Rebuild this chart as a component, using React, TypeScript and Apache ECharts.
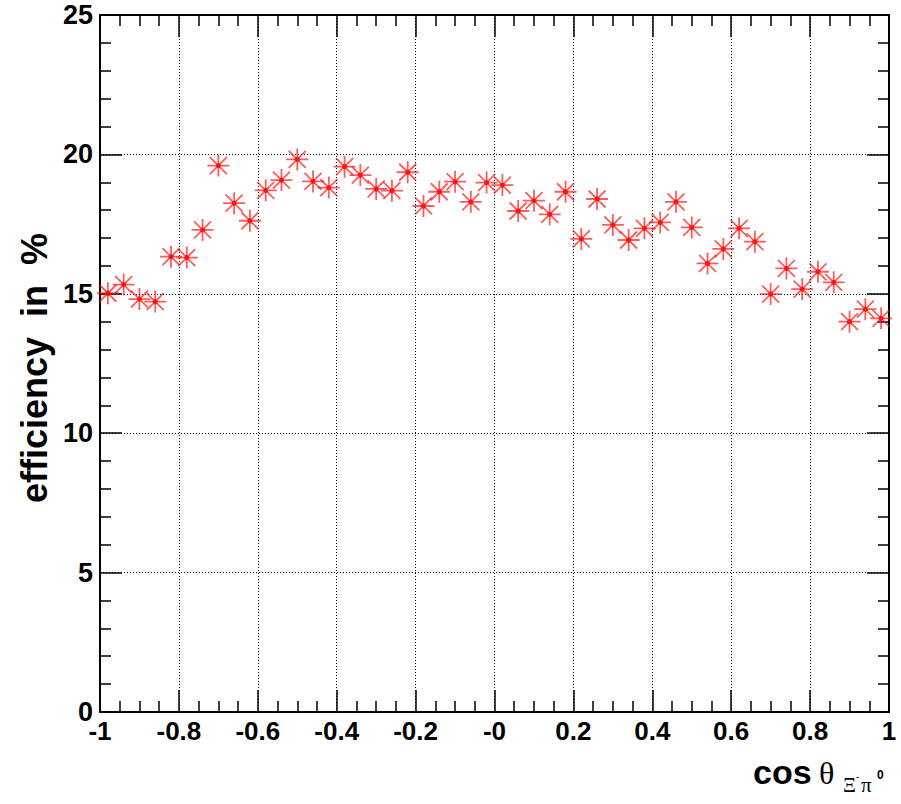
import React, { useEffect, useRef } from "react";
import * as echarts from "echarts";

const binCenters: number[] = [
  -0.98, -0.94, -0.9, -0.86, -0.82, -0.78, -0.74, -0.7, -0.66, -0.62,
  -0.58, -0.54, -0.5, -0.46, -0.42, -0.38, -0.34, -0.3, -0.26, -0.22,
  -0.18, -0.14, -0.1, -0.06, -0.02, 0.02, 0.06, 0.1, 0.14, 0.18,
  0.22, 0.26, 0.3, 0.34, 0.38, 0.42, 0.46, 0.5, 0.54, 0.58,
  0.62, 0.66, 0.7, 0.74, 0.78, 0.82, 0.86, 0.9, 0.94, 0.98,
];

const efficiency: number[] = [
  15.02, 15.33, 14.81, 14.72, 16.33, 16.3, 17.29, 19.6, 18.25, 17.62,
  18.71, 19.08, 19.82, 19.03, 18.81, 19.56, 19.26, 18.76, 18.7, 19.36,
  18.15, 18.66, 19.02, 18.3, 18.99, 18.9, 17.97, 18.34, 17.85, 18.66,
  16.97, 18.4, 17.47, 16.93, 17.35, 17.56, 18.3, 17.38, 16.09, 16.61,
  17.35, 16.87, 14.99, 15.91, 15.17, 15.79, 15.41, 14.0, 14.45, 14.12,
];

const yTitle = "efficiency  in  %";

const FONT = "'Liberation Sans', Arial, Helvetica, sans-serif";
const SERIF = "'Liberation Serif', 'DejaVu Serif', serif";

const STAR = "path://M0,-11L0,11M-11,0L11,0M-8.5,-8.5L8.5,8.5M-8.5,8.5L8.5,-8.5";

function fmtX(v: number): string {
  if (Math.abs(v) < 1e-9) return "-0";
  return String(Math.round(v * 10) / 10);
}

export default function App() {
  const ref = useRef<HTMLDivElement>(null);

  useEffect(() => {
    document.body.style.margin = "0";
    if (!ref.current) return;
    const chart = echarts.init(ref.current, null, { renderer: "svg" });
    const pts = binCenters.map((x, i) => [x, efficiency[i]]);

    const baseAxisLine = { show: true, onZero: false, lineStyle: { color: "#000", width: 2 } };
    const tick = { show: true, inside: true, length: 22, lineStyle: { color: "#000", width: 1.5 } };
    const split = { show: true, lineStyle: { color: "#000", width: 1, type: [1, 2] as any } };

    chart.setOption({
      animation: false,
      backgroundColor: "#fff",
      grid: { left: 100, top: 15, width: 789, height: 697, containLabel: false },
      xAxis: [
        {
          type: "value", position: "bottom", min: -1, max: 1, interval: 0.2,
          axisLine: baseAxisLine, axisTick: tick,
          minorTick: { show: true, splitNumber: 4, length: 11, lineStyle: { color: "#000", width: 1.5 } },
          splitLine: split,
          axisLabel: {
            formatter: fmtX, color: "#000", fontFamily: FONT, fontWeight: "bold",
            fontSize: 26, lineHeight: 18, margin: 10, showMinLabel: true, showMaxLabel: true,
          },
        },
        {
          type: "value", position: "top", min: -1, max: 1, interval: 0.2,
          axisLine: baseAxisLine, axisTick: tick,
          minorTick: { show: true, splitNumber: 4, length: 11, lineStyle: { color: "#000", width: 1.5 } },
          splitLine: { show: false }, axisLabel: { show: false },
        },
      ],
      yAxis: [
        {
          type: "value", position: "left", min: 0, max: 25, interval: 5,
          axisLine: baseAxisLine, axisTick: tick,
          minorTick: { show: true, splitNumber: 5, length: 11, lineStyle: { color: "#000", width: 1.5 } },
          splitLine: split,
          axisLabel: {
            color: "#000", fontFamily: FONT, fontWeight: "bold", fontSize: 27, lineHeight: 18, margin: 7,
            showMinLabel: true, showMaxLabel: true,
          },
        },
        {
          type: "value", position: "right", min: 0, max: 25, interval: 5,
          axisLine: baseAxisLine, axisTick: tick,
          minorTick: { show: true, splitNumber: 5, length: 11, lineStyle: { color: "#000", width: 1.5 } },
          splitLine: { show: false }, axisLabel: { show: false },
        },
      ],
      series: [
        {
          type: "scatter", xAxisIndex: 0, yAxisIndex: 0, data: pts,
          symbol: STAR, symbolSize: 22,
          itemStyle: { color: "rgba(255,0,0,0)", borderColor: "rgba(255,0,0,0.8)", borderWidth: 1.8 },
          silent: true,
        },
        {
          type: "scatter", xAxisIndex: 0, yAxisIndex: 0, data: pts,
          symbol: "circle", symbolSize: 5,
          itemStyle: { color: "#ff0000" },
          silent: true,
        },
      ],
      graphic: [
        {
          type: "text", x: 34, y: 503, rotation: Math.PI / 2,
          style: {
            text: yTitle, fill: "#000", font: `bold 36px ${FONT}`,
            align: "left", verticalAlign: "middle",
          },
        },
        {
          type: "text", x: 753, y: 772,
          style: { text: "cos", fill: "#000", font: `bold 34px ${FONT}`, align: "left", verticalAlign: "middle" },
        },
        {
          type: "text", x: 819, y: 773,
          style: { text: "θ", fill: "#000", font: `32px ${SERIF}`, align: "left", verticalAlign: "middle" },
        },
        {
          type: "text", x: 843, y: 785,
          style: { text: "Ξ", fill: "#000", font: `20px ${SERIF}`, align: "left", verticalAlign: "middle" },
        },
        {
          type: "text", x: 856, y: 776,
          style: { text: "-", fill: "#000", font: `10px ${SERIF}`, align: "left", verticalAlign: "middle" },
        },
        {
          type: "text", x: 861, y: 785,
          style: { text: "π", fill: "#000", font: `21px ${SERIF}`, align: "left", verticalAlign: "middle" },
        },
        {
          type: "text", x: 877, y: 775,
          style: { text: "0", fill: "#000", font: `bold 12px ${FONT}`, align: "left", verticalAlign: "middle" },
        },
      ],
    });

    return () => chart.dispose();
  }, []);

  return <div ref={ref} style={{ width: 901, height: 804 }} />;
}
